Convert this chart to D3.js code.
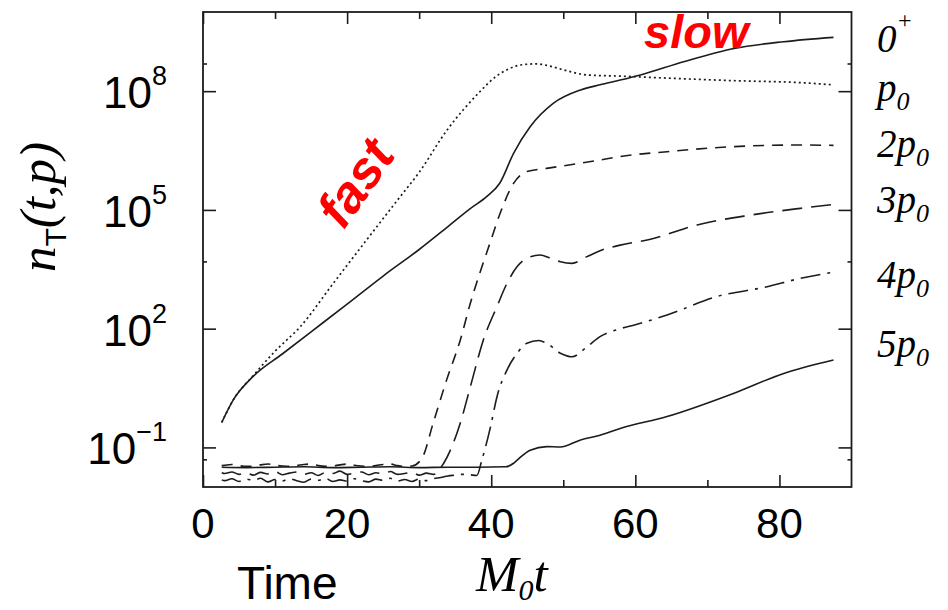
<!DOCTYPE html>
<html>
<head>
<meta charset="utf-8">
<script src="https://cdn.jsdelivr.net/npm/d3@7"></script>
<style>
  body { margin: 0; background: #fff; }
  svg { display: block; }
</style>
</head>
<body>
<svg id="chart" width="948" height="610"></svg>
<script>
// ---- data: time M0 t and log10 of n_T(t,p) for each momentum shell ----
const tZero = [2.6, 4.2, 7.0, 11.0, 15.0, 20.0, 25.0, 30.0, 34.0, 37.0, 39.4, 41.2, 43.1, 45.4, 48.6, 52.4, 55.1, 57.9, 60.7, 66.7, 73.7, 80.6, 87.5];
const logZero = [-0.37, 0.20, 0.80, 1.36, 1.92, 2.62, 3.33, 4.00, 4.58, 5.02, 5.34, 5.68, 6.43, 7.10, 7.69, 8.03, 8.16, 8.28, 8.41, 8.745, 9.08, 9.25, 9.36];

const tP1 = [2.6, 4.2, 7.0, 10.0, 13.5, 18.1, 22.7, 27.0, 30.0, 33.8, 38.5, 40.5, 42.2, 44.0, 46.3, 48.0, 50.0, 53.3, 57.9, 64.4, 73.7, 82.9, 87.5];
const logP1 = [-0.37, 0.20, 0.82, 1.43, 2.05, 3.15, 4.24, 5.25, 5.95, 7.00, 8.00, 8.35, 8.54, 8.66, 8.69, 8.64, 8.54, 8.41, 8.38, 8.33, 8.265, 8.215, 8.16];

const tP2 = [2.6, 3, 4, 5, 6, 7, 8, 9, 10, 11, 12, 13, 14, 15, 16, 17, 18, 19, 20, 21, 22, 23, 24, 25, 26, 27, 28, 29,
             30.4, 32.0, 33.8, 35.7, 37.1, 38.5, 39.9, 41.25, 43.1, 44.95, 47.7, 52.4, 55.1, 57.9, 64.4, 73.7, 82.9, 87.5];
const logP2 = [-1.46, -1.45, -1.43, -1.46, -1.48, -1.47, -1.44, -1.42, -1.45, -1.47, -1.48, -1.46, -1.43, -1.42, -1.46, -1.48, -1.47, -1.44, -1.42, -1.45, -1.47, -1.48, -1.46, -1.43, -1.42, -1.46, -1.48, -1.47,
               -1.27, -0.35, 0.70, 1.71, 2.64, 3.45, 4.20, 4.92, 5.67, 5.97, 6.05, 6.18, 6.26, 6.35, 6.47, 6.60, 6.64, 6.63];

const tP3 = [2.6, 3, 4, 5, 6, 7, 8, 9, 10, 11, 12, 13, 14, 15, 16, 17, 18, 19, 20, 21, 22, 23, 24, 25, 26, 27, 28, 29, 30, 31, 32,
             33.4, 35.7, 37.1, 38.9, 40.8, 42.2, 43.6, 44.95, 46.8, 48.2, 49.6, 51.2, 53.3, 55.1, 57.9, 62.1, 69.0, 76.0, 82.9, 87.5];
const logP3 = [-1.64, -1.66, -1.62, -1.68, -1.64, -1.70, -1.63, -1.67, -1.61, -1.69, -1.65, -1.62, -1.68, -1.64, -1.71, -1.63, -1.66, -1.60, -1.68, -1.65, -1.62, -1.69, -1.64, -1.67, -1.61, -1.68, -1.66, -1.63, -1.70, -1.65, -1.68,
               -1.40, -0.39, 0.53, 1.71, 2.56, 3.15, 3.57, 3.78, 3.86, 3.78, 3.69, 3.65, 3.82, 3.97, 4.11, 4.26, 4.64, 4.87, 5.04, 5.14];

const tP4 = [2.6, 3, 4, 5, 6, 7, 8, 9, 10, 11, 12, 13, 14, 15, 16, 17, 18, 19, 20, 21, 22, 23, 24, 25, 26, 27, 28, 29, 30, 31, 32, 33, 34, 35, 36, 37, 38,
             38.7, 39.9, 40.8, 42.2, 43.6, 44.95, 46.6, 47.7, 49.6, 51.2, 53.3, 55.1, 57.9, 60.0, 64.4, 71.3, 78.3, 82.9, 87.5];
const logP4 = [-1.82, -1.84, -1.79, -1.86, -1.80, -1.83, -1.78, -1.87, -1.81, -1.85, -1.79, -1.84, -1.88, -1.80, -1.83, -1.78, -1.86, -1.82, -1.85, -1.79, -1.84, -1.87, -1.80, -1.83, -1.78, -1.85, -1.81, -1.86, -1.80, -1.84, -1.79, -1.76, -1.72, -1.70, -1.68, -1.69, -1.71,
               -1.32, -0.48, 0.28, 0.96, 1.38, 1.63, 1.70, 1.63, 1.38, 1.29, 1.545, 1.80, 2.00, 2.10, 2.345, 2.81, 3.06, 3.27, 3.425];

const tP5 = [2.6, 6, 10, 14, 18, 22, 26, 30, 34, 38, 42, 43.1, 43.6, 45.4, 47.7, 49.6, 52.4, 55.1, 57.9, 64.4, 73.7, 80.6, 87.5];
const logP5 = [-1.50, -1.51, -1.50, -1.49, -1.51, -1.50, -1.49, -1.51, -1.50, -1.50, -1.49, -1.40, -1.32, -1.07, -0.98, -0.99, -0.81, -0.69, -0.52, -0.22, 0.37, 0.87, 1.21];

// axis ticks
const xMajorTicks = [0, 20, 40, 60, 80];
const xMinorTicks = [10, 30, 50, 70];
const yMajorExp = [-1, 2, 5, 8];
const yMinorTicks = [5e-2, 5e3, 5e8];

// shell labels on the right: leading coefficient, main symbol, subscript, superscript
const shellLabels = [
  { pre: "", main: "0", sub: "", sup: "+" },
  { pre: "", main: "p", sub: "0", sup: "" },
  { pre: "2", main: "p", sub: "0", sup: "" },
  { pre: "3", main: "p", sub: "0", sup: "" },
  { pre: "4", main: "p", sub: "0", sup: "" },
  { pre: "5", main: "p", sub: "0", sup: "" }
];

// ---- layout ----
const svg = d3.select("#chart");
const plot = { left: 203, right: 851.5, top: 12, bottom: 487 };

const x = d3.scaleLinear().domain([0, 90]).range([plot.left, plot.right]);
const y = d3.scaleLog().domain([1e-2, 1e10]).range([plot.bottom, plot.top]);

const ink = "#1c1c1c";

svg.append("defs").append("clipPath").attr("id", "plotClip")
  .append("rect")
  .attr("x", plot.left).attr("y", plot.top)
  .attr("width", plot.right - plot.left).attr("height", plot.bottom - plot.top);

// ticks (all pointing inward, mirrored on opposite sides)
function tickAxis(axisGen, transform) {
  const g = svg.append("g").attr("transform", transform).call(axisGen);
  g.select(".domain").remove();
  g.selectAll("text").remove();
  g.selectAll("line").attr("stroke", ink).attr("stroke-width", 1.6);
  return g;
}
tickAxis(d3.axisBottom(x).tickValues(xMajorTicks).tickSize(-12), `translate(0,${plot.bottom})`);
tickAxis(d3.axisBottom(x).tickValues(xMinorTicks).tickSize(-7), `translate(0,${plot.bottom})`);
tickAxis(d3.axisTop(x).tickValues(xMajorTicks).tickSize(-12), `translate(0,${plot.top})`);
tickAxis(d3.axisTop(x).tickValues(xMinorTicks).tickSize(-7), `translate(0,${plot.top})`);

const yMajorVals = yMajorExp.map(e => Math.pow(10, e));
tickAxis(d3.axisLeft(y).tickValues(yMajorVals).tickSize(-13), `translate(${plot.left},0)`);
tickAxis(d3.axisLeft(y).tickValues(yMinorTicks).tickSize(-4), `translate(${plot.left},0)`);
tickAxis(d3.axisRight(y).tickValues(yMajorVals).tickSize(-13), `translate(${plot.right},0)`);
tickAxis(d3.axisRight(y).tickValues(yMinorTicks).tickSize(-4), `translate(${plot.right},0)`);

// frame
svg.append("rect")
  .attr("x", plot.left).attr("y", plot.top)
  .attr("width", plot.right - plot.left).attr("height", plot.bottom - plot.top)
  .attr("fill", "none").attr("stroke", ink).attr("stroke-width", 1.8);

// ---- curves ----
const series = [
  { t: tZero, v: logZero, dash: null },
  { t: tP1, v: logP1, dash: "2,3" },
  { t: tP2, v: logP2, dash: "11,8" },
  { t: tP3, v: logP3, dash: "20,9" },
  { t: tP4, v: logP4, dash: "20,7,3,7" },
  { t: tP5, v: logP5, dash: null }
];

const line = d3.line()
  .x(d => x(d[0]))
  .y(d => y(d[1]))
  .curve(d3.curveMonotoneX);

const curves = svg.append("g").attr("clip-path", "url(#plotClip)");
series.forEach(s => {
  const pts = s.t.map((t, i) => [t, Math.pow(10, s.v[i])]);
  curves.append("path")
    .attr("d", line(pts))
    .attr("fill", "none")
    .attr("stroke", ink)
    .attr("stroke-width", s.dash === "2,3" ? 1.7 : 1.6)
    .attr("stroke-dasharray", s.dash)
    .attr("stroke-linejoin", "round");
});

// ---- tick labels ----
const sans = "Arial, 'Liberation Sans', Helvetica, sans-serif";
const serif = "'Liberation Serif', 'Times New Roman', Times, serif";

svg.append("g").selectAll("text").data(xMajorTicks).join("text")
  .attr("x", d => x(d)).attr("y", 538)
  .attr("text-anchor", "middle")
  .attr("font-family", sans).attr("font-size", 42)
  .attr("fill", "#000")
  .text(d => d);

const yLab = svg.append("g").selectAll("text").data(yMajorExp).join("text")
  .attr("x", 167).attr("y", d => y(Math.pow(10, d)) + 17)
  .attr("text-anchor", "end")
  .attr("font-family", sans).attr("font-size", 44)
  .attr("fill", "#000");
yLab.append("tspan").text("10");
yLab.append("tspan").attr("dy", -23).attr("font-size", 27)
  .text(d => d < 0 ? "\u2212" + Math.abs(d) : d);

// ---- axis titles ----
svg.append("text").attr("x", 237).attr("y", 599)
  .attr("font-family", sans).attr("font-size", 46).attr("fill", "#000")
  .text("Time");

const mt = svg.append("text").attr("x", 476).attr("y", 591)
  .attr("font-family", serif).attr("font-style", "italic").attr("font-size", 51).attr("fill", "#000");
mt.append("tspan").text("M");
mt.append("tspan").attr("font-size", 30).attr("dy", 9).text("0");
mt.append("tspan").attr("dy", -9).text("t");

const yt = svg.append("text")
  .attr("transform", "translate(55,207) rotate(-90)")
  .attr("text-anchor", "middle")
  .attr("font-family", serif).attr("font-style", "italic").attr("font-size", 51).attr("fill", "#000");
yt.append("tspan").text("n");
yt.append("tspan").attr("font-family", sans).attr("font-style", "normal").attr("font-size", 30).attr("dy", 11).text("T");
yt.append("tspan").attr("dy", -11).text("(t,p)");

// ---- shell labels on the right ----
const labelBaselines = [52, 101, 157, 213, 288, 357];
shellLabels.forEach((L, i) => {
  const tx = svg.append("text").attr("x", 877).attr("y", labelBaselines[i])
    .attr("font-family", serif).attr("font-style", "italic").attr("font-size", 39).attr("fill", "#000");
  if (L.pre) tx.append("tspan").text(L.pre);
  tx.append("tspan").text(L.main);
  if (L.sup) tx.append("tspan").attr("font-size", 24).attr("dy", -24).text(L.sup);
  if (L.sub) tx.append("tspan").attr("font-size", 26).attr("dy", 9).text(L.sub);
});

// ---- annotations ----
svg.append("text")
  .attr("x", 644).attr("y", 48)
  .attr("font-family", sans).attr("font-weight", "bold").attr("font-style", "italic")
  .attr("font-size", 47).attr("fill", "#ff0000")
  .text("slow");

svg.append("text")
  .attr("transform", "translate(370,193) rotate(-55)")
  .attr("text-anchor", "middle")
  .attr("font-family", sans).attr("font-weight", "bold").attr("font-style", "italic")
  .attr("font-size", 52).attr("fill", "#ff0000")
  .text("fast");
</script>
</body>
</html>
